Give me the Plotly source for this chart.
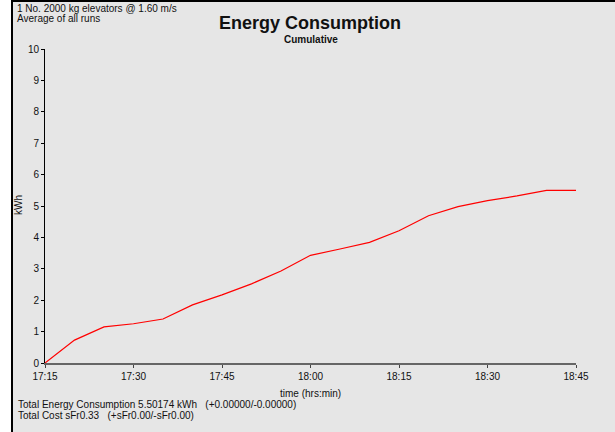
import plotly.graph_objects as go

# Cumulative energy consumption, sampled every 5 minutes
times = ["17:15", "17:20", "17:25", "17:30", "17:35", "17:40", "17:45", "17:50",
         "17:55", "18:00", "18:05", "18:10", "18:15", "18:20", "18:25", "18:30",
         "18:35", "18:40", "18:45"]
energy_kwh = [0.00, 0.73, 1.15, 1.25, 1.40, 1.85, 2.17, 2.52, 2.93, 3.43,
              3.63, 3.84, 4.21, 4.69, 4.98, 5.17, 5.32, 5.50, 5.50]

tick_vals = ["17:15", "17:30", "17:45", "18:00", "18:15", "18:30", "18:45"]
y_ticks = list(range(0, 11))

header_lines = ["1 No. 2000 kg elevators @ 1.60 m/s", "Average of all runs"]
footer_lines = ["Total Energy Consumption 5.50174 kWh   (+0.00000/-0.00000)",
                "Total Cost sFr0.33   (+sFr0.00/-sFr0.00)"]

DAY = "2000-01-01 "
x = [DAY + t for t in times]

W, H = 615, 432
L, R, T, B = 45, 39, 49, 69
PW, PH = W - L - R, H - T - B
BG = "#e6e6e6"
FONT = "Liberation Sans, Arial, sans-serif"


def px(xp):
    return (xp - L) / PW


def py(yp):
    return (H - B - yp) / PH


fig = go.Figure()
fig.add_trace(go.Scatter(x=x, y=energy_kwh, mode="lines",
                         line=dict(color="#ff0000", width=1.2),
                         showlegend=False, hoverinfo="skip"))

fig.update_layout(
    width=W, height=H,
    margin=dict(l=L, r=R, t=T, b=B, pad=0),
    paper_bgcolor=BG, plot_bgcolor=BG,
    font=dict(family=FONT, size=10, color="#111"),
    showlegend=False,
)

fig.update_xaxes(
    type="date",
    range=[DAY + "17:15", DAY + "18:45"],
    tickvals=[DAY + t for t in tick_vals],
    ticktext=tick_vals,
    showgrid=False, zeroline=False,
    showline=True, linecolor="#666666", linewidth=2,
    ticks="outside", ticklen=3, tickcolor="#444444", tickwidth=1,
    tickfont=dict(size=10, color="#111"),
)
fig.update_yaxes(
    range=[0, 10],
    tickvals=y_ticks,
    showgrid=False, zeroline=False,
    showline=True, linecolor="#000000", linewidth=1,
    ticks="outside", ticklen=3, tickcolor="#000000", tickwidth=1,
    tickfont=dict(size=10, color="#111"),
)

ann = []
# Title and subtitle
ann.append(dict(text="<b>Energy Consumption</b>", x=px(310), y=py(23),
                font=dict(size=18, color="#111")))
ann.append(dict(text="<b>Cumulative</b>", x=px(311), y=py(39),
                font=dict(size=10, color="#111")))
# Header notes
for i, line in enumerate(header_lines):
    ann.append(dict(text=line, x=px(15), y=py(8.5 + 10 * i), xanchor="left",
                    font=dict(size=10, color="#111")))
# Axis titles
ann.append(dict(text="kWh", x=px(18), y=py(205), textangle=-90,
                font=dict(size=10, color="#111")))
ann.append(dict(text="time (hrs:min)", x=px(310), y=py(393),
                font=dict(size=10, color="#111")))
# Footer totals
for i, line in enumerate(footer_lines):
    ann.append(dict(text=line, x=px(16), y=py(404 + 11.5 * i), xanchor="left",
                    font=dict(size=10, color="#111")))

for a in ann:
    a.setdefault("xanchor", "center")
    a.update(xref="paper", yref="paper", yanchor="middle", showarrow=False)
fig.update_layout(annotations=ann)

# Frame: white strip and black rules at the left and top edges
fig.update_layout(shapes=[
    dict(type="rect", xref="paper", yref="paper", x0=px(0), x1=px(11),
         y0=py(H), y1=py(0), fillcolor="#ffffff", line=dict(width=0), layer="below"),
    dict(type="rect", xref="paper", yref="paper", x0=px(11), x1=px(13),
         y0=py(H), y1=py(0), fillcolor="#000000", line=dict(width=0)),
    dict(type="rect", xref="paper", yref="paper", x0=px(11), x1=px(W),
         y0=py(2), y1=py(0), fillcolor="#000000", line=dict(width=0)),
])

fig.write_html("out.html")
